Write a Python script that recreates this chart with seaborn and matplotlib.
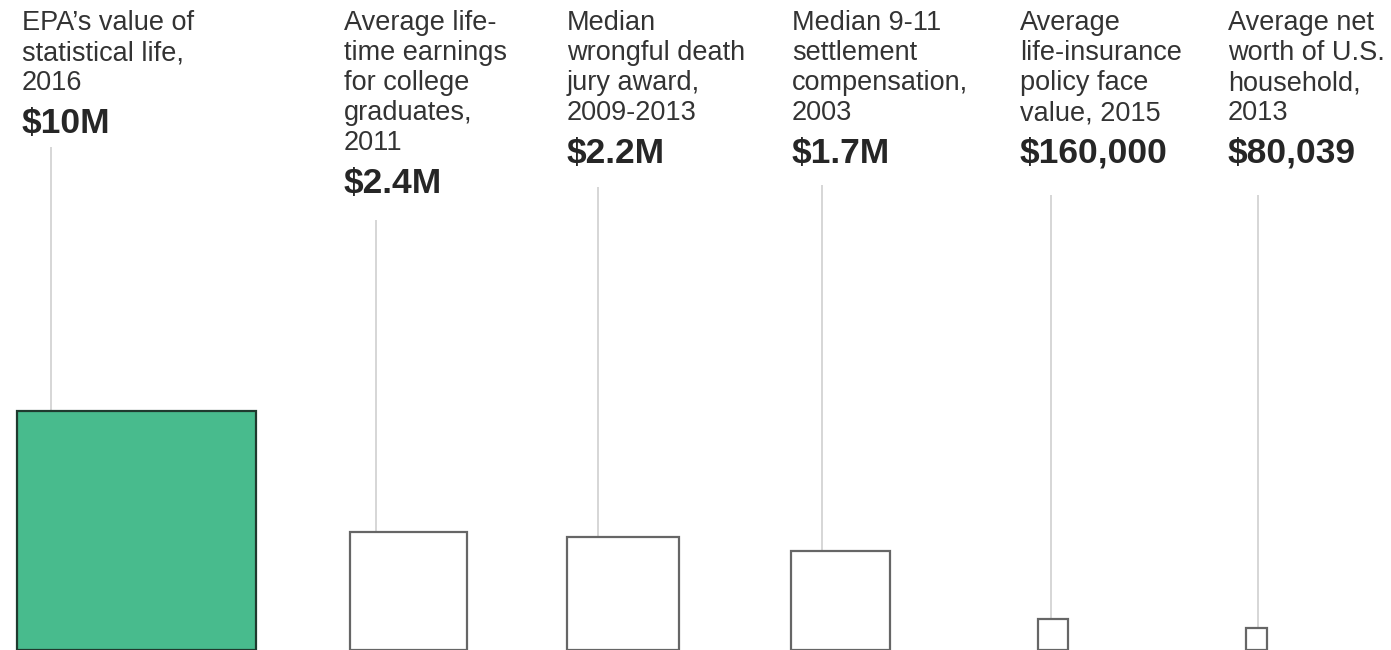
import numpy as np
import matplotlib
matplotlib.use("Agg")
import matplotlib.pyplot as plt
from matplotlib.patches import Rectangle
import seaborn as sns

# --- data -------------------------------------------------------------
descriptions = [
    ["EPA’s value of", "statistical life,", "2016"],
    ["Average life-", "time earnings", "for college", "graduates,", "2011"],
    ["Median", "wrongful death", "jury award,", "2009-2013"],
    ["Median 9-11", "settlement", "compensation,", "2003"],
    ["Average", "life-insurance", "policy face", "value, 2015"],
    ["Average net", "worth of U.S.", "household,", "2013"],
]
value_labels = ["$10M", "$2.4M", "$2.2M", "$1.7M", "$160,000", "$80,039"]
values = [10_000_000, 2_400_000, 2_200_000, 1_700_000, 160_000, 80_039]

# --- layout (pixel canvas) --------------------------------------------
W, H = 1391, 650
text_x = [22, 344, 567, 792, 1020, 1228]
stem_x = [51, 376, 598, 822, 1051, 1258]
square_left = [17, 350, 567, 791, 1038, 1246]
stem_top = [147, 220, 187, 185, 195, 195]
max_side = 239          # side of the square for the largest value
base_y = 649.5          # shared baseline of all squares
line_step = 30          # description line spacing
first_baseline = 30

sns.set_theme(style="white")
plt.rcParams["font.family"] = ["Liberation Sans", "DejaVu Sans"]

fig = plt.figure(figsize=(W / 100, H / 100), dpi=100)
ax = fig.add_axes([0, 0, 1, 1])
ax.set_xlim(0, W)
ax.set_ylim(H, 0)
ax.axis("off")

vmax = max(values)
for i, v in enumerate(values):
    side = max_side * np.sqrt(v / vmax)
    top = base_y - side

    # description lines
    for j, line in enumerate(descriptions[i]):
        ax.text(text_x[i], first_baseline + j * line_step, line,
                fontsize=19.5, color="#333333", ha="left", va="baseline")
    last = first_baseline + (len(descriptions[i]) - 1) * line_step
    ax.text(text_x[i], last + 43, value_labels[i], fontsize=25.5,
            fontweight="bold", color="#262626", ha="left", va="baseline")

    # stem from the label down to the square
    ax.plot([stem_x[i], stem_x[i]], [stem_top[i], top],
            color="#cccccc", lw=1.1, solid_capstyle="butt", zorder=1)

    # square whose area is proportional to the value
    if i == 0:
        face, edge = "#48bb8d", "#1f3a2e"
    else:
        face, edge = "white", "#666666"
    ax.add_patch(Rectangle((square_left[i], top), side, side,
                           facecolor=face, edgecolor=edge, lw=1.6, zorder=2))

fig.savefig("out.png", dpi=100)
